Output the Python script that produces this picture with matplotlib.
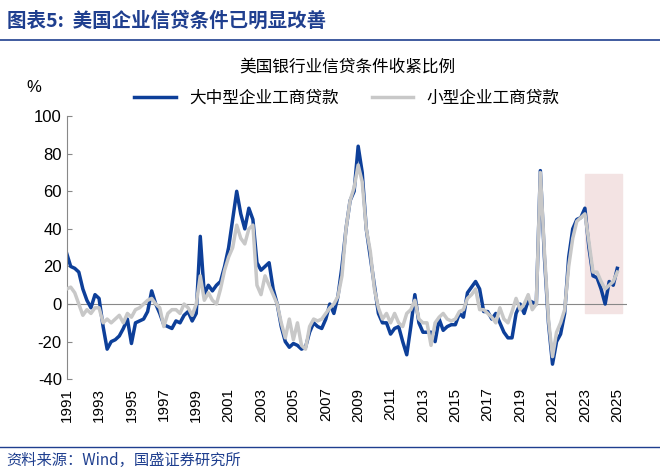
import matplotlib
matplotlib.use("Agg")
import matplotlib.pyplot as plt
from matplotlib.patches import Rectangle
import numpy as np

plt.rcParams['font.family'] = ['Noto Sans CJK SC']

large = [27,20,19,17, 8,2,-2,5, 3,-12,-24,-20, -19,-17,-13,-8, -21,-10,-9,-8,
         -4,7,0,-5, -11,-12,-13,-9, -10,-6,-4,-9, -5,36,5,10, 7,10,12,20,
         30,45,60,48, 40,51,45,22, 18,20,22,8, 0,-12,-20,-23, -21,-22,-24,-23,
         -15,-10,-12,-13, -8,0,-5,4, 20,40,55,60, 84,70,40,25, 10,-5,-10,-10,
         -16,-13,-12,-20, -27,-12,5,-10, -15,-15,-15,-20, -8,-14,-12,-11, -11,-5,-7,6,
         9,12,8,-4, -4,-8,-5,-10, -15,-18,-18,-5, 0,-5,2,1, 0,71,25,-10,
         -32,-20,-16,-5, 25,40,45,46, 51,30,15,14, 8,0,12,10, 19]
small = [8,9,6,0, -6,-3,-5,-2, -2,-10,-8,-10, -8,-6,-10,-5, -7,-3,-2,0,
         2,3,0,-2, -12,-5,-3,-3, -5,0,-2,-6, 0,15,2,6, 2,0,8,18,
         25,30,42,35, 32,40,42,10, 5,15,10,5, 0,-10,-18,-8, -19,-10,-22,-24,
         -12,-8,-9,-8, -5,-2,0,4, 15,40,55,62, 74,65,40,28, 8,-2,-8,-5,
         -10,-5,-10,-12, -5,-3,2,-8, -10,-10,-22,-10, -7,-5,-8,-9, -8,-4,-3,3,
         5,8,-3,-3, -5,-7,-10,-2, -8,-10,-4,3, -3,0,5,-3, 0,70,28,-8,
         -28,-15,-10,-3, 20,35,44,46, 48,33,17,17, 12,8,10,12, 17]
years = list(range(1991, 2026, 2))
yticks = [-40, -20, 0, 20, 40, 60, 80, 100]

x = 1991 + np.arange(len(large)) / 4

fig = plt.figure(figsize=(6.6, 4.74), dpi=100)
fig.text(0.01, 0.955, "图表5:  美国企业信贷条件已明显改善", fontsize=14, color='#1f3f8f',
         fontweight='bold', style='italic', va='center')
fig.add_artist(plt.Line2D([0.0, 1.0], [0.915, 0.915], color='#1f3f8f', lw=1.2))
fig.add_artist(plt.Line2D([0.0, 1.0], [0.058, 0.058], color='#1f3f8f', lw=1.0))
fig.text(0.01, 0.028, "资料来源：Wind，国盛证券研究所", fontsize=11, color='#1f3f8f',
         style='italic', va='center')

ax = fig.add_axes([0.101, 0.2, 0.849, 0.555])
ax.add_patch(Rectangle((2023.0, -5), 2.3, 74, color='#f3e3e3', zorder=0))
ax.plot(x, large, color='#0d3f99', lw=2.5, label='大中型企业工商贷款', zorder=2)
ax.plot(x, small, color='#c8c8c8', lw=2.5, label='小型企业工商贷款', zorder=3)
ax.axhline(0, color='#888888', lw=0.8, zorder=1)
ax.set_xlim(1991, 2025.6)
ax.set_ylim(-40, 100)
ax.set_yticks(yticks)
ax.set_xticks(years)
ax.set_xticklabels([str(y) for y in years], rotation=90, fontsize=11, family='Liberation Sans')
ax.set_yticklabels([str(v) for v in yticks], fontsize=12, family='Liberation Sans')
for s in ['top', 'right', 'bottom']:
    ax.spines[s].set_visible(False)
ax.spines['left'].set_color('#888888')
ax.tick_params(axis='x', length=0, pad=6)
ax.tick_params(axis='y', direction='in', color='#888888')
ax.set_title("美国银行业信贷条件收紧比例", fontsize=12, pad=32)
ax.legend(loc='lower center', bbox_to_anchor=(0.5, 0.98), ncol=2, frameon=False,
          fontsize=12, handlelength=2.5, columnspacing=2)
fig.text(0.04, 0.805, "%", fontsize=12, family='Liberation Sans')
fig.savefig("out.png", dpi=100)
